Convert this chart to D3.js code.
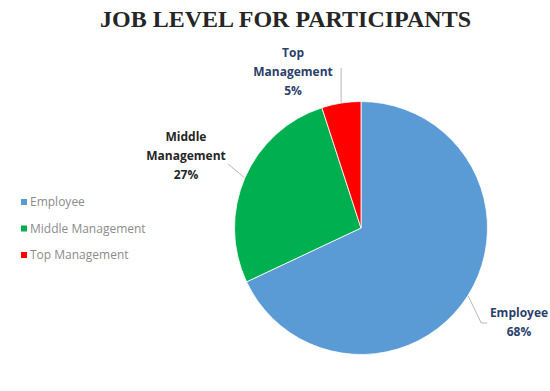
<!DOCTYPE html>
<html>
<head>
<meta charset="utf-8">
<script src="https://cdn.jsdelivr.net/npm/d3@7"></script>
<style>
  html, body { margin: 0; padding: 0; background: #fff; }
  svg { display: block; }
</style>
</head>
<body>
<svg id="chart" width="550" height="391"></svg>
<script>
// Job level breakdown of survey participants (percent)
const categories = ["Employee", "Middle Management", "Top Management"];
const values = [68, 27, 5];
const labelLines = [["Employee", "68%"], ["Middle", "Management", "27%"], ["Top", "Management", "5%"]];
const colors = ["#5b9bd5", "#00b050", "#ff0000"];
const labelColors = ["#2b3f6b", "#262626", "#2b3f6b"];

const svg = d3.select("#chart");
const cx = 361, cy = 228, R = 126.5;

// Title
svg.append("text")
  .attr("x", 285.5).attr("y", 27)
  .attr("text-anchor", "middle")
  .attr("font-family", "'Liberation Serif', 'Times New Roman', serif")
  .attr("font-weight", "bold")
  .attr("font-size", 24)
  .attr("fill", "#262626")
  .text("JOB LEVEL FOR PARTICIPANTS");

const data = categories.map((c, i) => ({ name: c, value: values[i], i }));
const pie = d3.pie().value(d => d.value).sort(null);
const arcs = pie(data);
const arc = d3.arc().innerRadius(0).outerRadius(R);

const g = svg.append("g").attr("transform", `translate(${cx},${cy})`);
g.selectAll("path.slice")
  .data(arcs)
  .join("path")
  .attr("class", "slice")
  .attr("d", arc)
  .attr("fill", d => colors[d.data.i])
  .attr("stroke", "#ffffff")
  .attr("stroke-width", 0.8);

// point on the rim at the middle of a slice
function rimPoint(d, r) {
  const a = (d.startAngle + d.endAngle) / 2;
  return [r * Math.sin(a), -r * Math.cos(a)];
}

// Data-label placement: text block centre and leader path (relative to pie centre)
const labelLayout = [
  { tx: 158, ty: 94, leader: (p) => [p, [p[0] + 13, 95], [p[0] + 19, 95]] },
  { tx: -175, ty: -72, leader: (p) => [p, [-133, -64]] },
  { tx: -68, ty: -156, leader: (p) => [p, [p[0], -160]] }
];

const lineH = 19;
arcs.forEach((d, k) => {
  const lay = labelLayout[k];
  const p = rimPoint(d, R + 0.5);
  g.append("path")
    .attr("d", d3.line()(lay.leader(p)))
    .attr("fill", "none")
    .attr("stroke", "#a6a6a6")
    .attr("stroke-width", 0.8);
  const lines = labelLines[k];
  const t = g.append("text")
    .attr("text-anchor", "middle")
    .attr("font-family", "'Open Sans', sans-serif")
    .attr("font-weight", "bold")
    .attr("font-size", 12)
    .attr("fill", labelColors[k]);
  const y0 = lay.ty - (lines.length - 1) * lineH / 2;
  lines.forEach((s, j) => {
    t.append("tspan")
      .attr("x", lay.tx)
      .attr("y", y0 + j * lineH)
      .attr("dy", "0.35em")
      .text(s);
  });
});

// Legend
const legend = svg.append("g").attr("transform", "translate(21,202)");
const legendY = d3.scalePoint().domain(categories).range([0, 53]);
const item = legend.selectAll("g.item")
  .data(categories)
  .join("g")
  .attr("class", "item")
  .attr("transform", d => `translate(0,${legendY(d)})`);
item.append("rect")
  .attr("x", 0).attr("y", -3)
  .attr("width", 6).attr("height", 6)
  .attr("fill", (d, i) => colors[i]);
item.append("text")
  .attr("x", 9).attr("y", 0).attr("dy", "0.35em")
  .attr("font-family", "'Open Sans', sans-serif")
  .attr("font-size", 12)
  .attr("fill", "#8c8c8c")
  .text(d => d);
</script>
</body>
</html>
